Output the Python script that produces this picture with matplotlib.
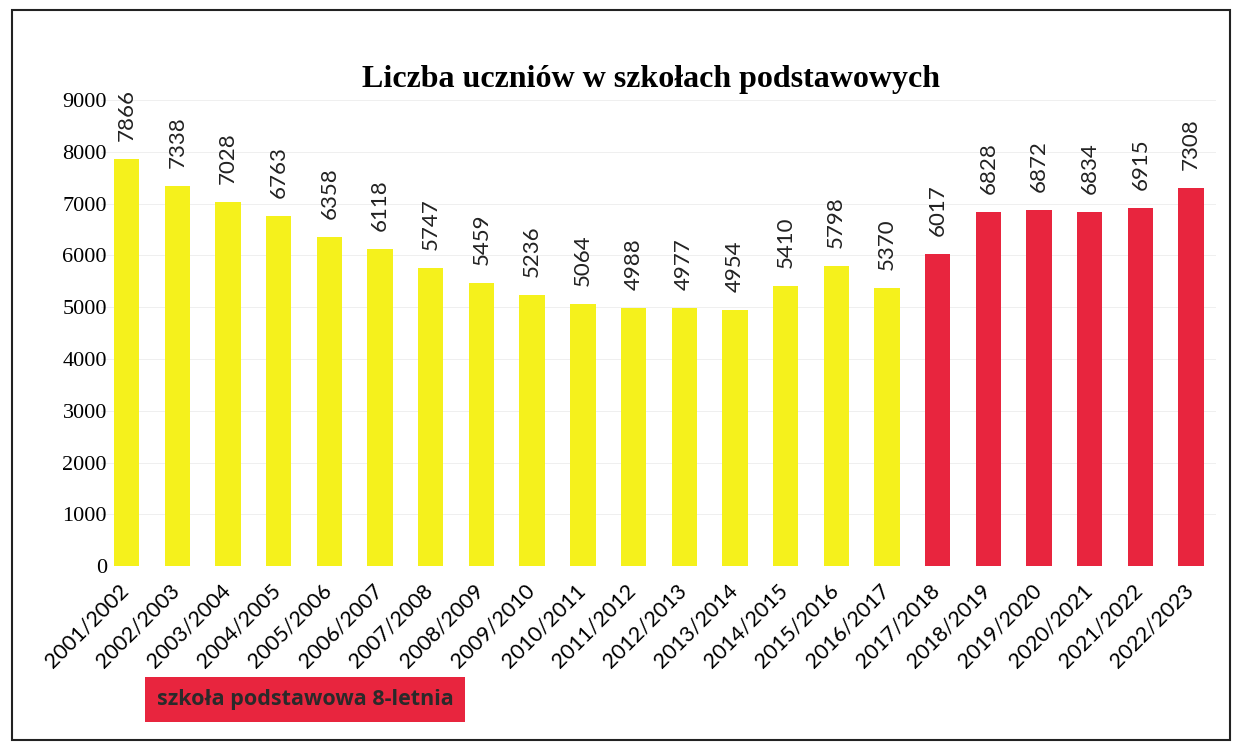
import matplotlib.pyplot as plt
import matplotlib.patches as mpatches
import matplotlib.transforms as mtransforms
import numpy as np

# dane
lata = ['2001/2002', '2002/2003', '2003/2004', '2004/2005', '2005/2006', '2006/2007',
        '2007/2008', '2008/2009', '2009/2010', '2010/2011', '2011/2012', '2012/2013',
        '2013/2014', '2014/2015', '2015/2016', '2016/2017', '2017/2018', '2018/2019',
        '2019/2020', '2020/2021', '2021/2022', '2022/2023']
uczniowie = [7866, 7338, 7028, 6763, 6358, 6118, 5747, 5459, 5236, 5064, 4988,
             4977, 4954, 5410, 5798, 5370, 6017, 6828, 6872, 6834, 6915, 7308]
osmioletnia = [False] * 16 + [True] * 6

zolty = '#f5f11c'
czerwony = '#e8253e'

fig = plt.figure(figsize=(12.35, 7.46), dpi=100)
ax = fig.add_axes([0.082, 0.241, 0.903, 0.625])

x = np.arange(len(lata))
kolory = [czerwony if o else zolty for o in osmioletnia]
bars = ax.bar(x, uczniowie, width=0.5, color=kolory, zorder=2)

for xi, v in zip(x, uczniowie):
    ax.annotate(str(v), (xi, v), xytext=(0, 13), textcoords='offset points',
                rotation=90, ha='center', va='bottom', fontsize=16,
                family='Lato', color='#222222')

ax.set_xlim(-0.5, len(lata) - 0.5)
ax.set_ylim(0, 9000)
ax.set_yticks(np.arange(0, 9001, 1000))
ax.set_yticklabels([str(t) for t in range(0, 9001, 1000)],
                   family='Liberation Serif', fontsize=16)
ax.set_xticks(x)
ax.set_xticklabels(lata, rotation=45, ha='right', rotation_mode='anchor',
                   family='Lato', fontsize=15.5)
ax.tick_params(axis='y', length=0, pad=-4)
ax.tick_params(axis='x', length=0, pad=10)
# przesuniecie etykiet osi x troche w lewo
przes = mtransforms.ScaledTranslation(-8 / 100, 0, fig.dpi_scale_trans)
for lab in ax.get_xticklabels():
    lab.set_transform(lab.get_transform() + przes)
for s in ax.spines.values():
    s.set_visible(False)
ax.yaxis.grid(True, color='#ececec', linewidth=0.6, zorder=0)

fig.text(0.527, 0.893, 'Liczba uczniów w szkołach podstawowych',
         ha='center', va='center', family='Liberation Serif',
         fontsize=23, fontweight='bold')

# legenda - czerwony prostokat
fig.text(0.247, 0.062, 'szkoła podstawowa 8-letnia', ha='center', va='center',
         family='Open Sans', fontsize=15.5, fontweight='bold', color='#2a2a2a',
         bbox=dict(boxstyle='square,pad=0.55', facecolor=czerwony,
                   edgecolor='none'))

# ramka
fig.add_artist(mpatches.Rectangle((0.010, 0.008), 0.986, 0.979,
                                  transform=fig.transFigure, fill=False,
                                  edgecolor='#222222', linewidth=1.5))

fig.savefig('out.png', dpi=100)
